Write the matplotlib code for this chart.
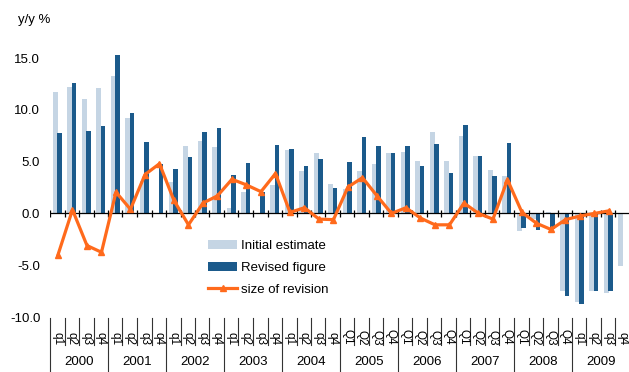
import numpy as np
import matplotlib
matplotlib.use("Agg")
import matplotlib.pyplot as plt
import matplotlib.transforms as mtransforms

plt.rcParams['font.family'] = ['Liberation Sans', 'DejaVu Sans']
plt.rcParams['axes.unicode_minus'] = False

years = ['2000', '2001', '2002', '2003', '2004', '2005', '2006', '2007', '2008', '2009']
quarter_labels = (['q1', 'q2', 'q3', 'q4'] * 5 + ['Q1', 'Q2', 'Q3', 'Q4'] * 4
                  + ['q1', 'q2', 'q3', 'q4'])

initial = [11.75, 12.2, 11.0, 12.1, 13.3, 9.2, 3.1, 0.0, 3.0, 6.55,
           7.0, 6.45, 0.55, 2.1, -0.1, 2.75, 6.1, 4.1, 5.85, 2.85,
           2.4, 4.1, 4.8, 5.85, 5.9, 5.05, 7.85, 5.05, 7.5, 5.5,
           4.15, 3.6, -1.65, -0.55, 0.1, -7.5, -8.6, -7.45, -7.7, -5.1]
revised = [7.8, 12.55, 8.0, 8.4, 15.3, 9.7, 6.9, 4.75, 4.3, 5.4,
           7.9, 8.2, 3.75, 4.9, 2.1, 6.6, 6.2, 4.6, 5.3, 2.45,
           5.0, 7.4, 6.5, 5.85, 6.5, 4.6, 6.7, 3.95, 8.5, 5.5,
           3.6, 6.8, -1.4, -1.6, -1.5, -8.0, -8.7, -7.45, -7.45, np.nan]
revision = [-4.0, 0.35, -3.1, -3.75, 2.05, 0.4, 3.75, 4.8, 1.25, -1.1,
            1.0, 1.7, 3.3, 2.75, 2.1, 3.85, 0.1, 0.55, -0.55, -0.6,
            2.55, 3.45, 1.7, 0.0, 0.55, -0.45, -1.1, -1.1, 1.0, 0.0,
            -0.55, 3.25, 0.1, -0.95, -1.55, -0.6, -0.25, 0.0, 0.25, np.nan]

c_init = '#c5d5e4'
c_rev = '#1b5a8b'
c_line = '#ff6a1c'

fig = plt.figure(figsize=(6.29, 3.72), dpi=100)
ax = fig.add_axes([50 / 629, 1 - 317 / 372, 580 / 629, (317 - 47.7) / 372])

n = len(quarter_labels)
x = np.arange(n)

b1 = ax.bar(x - 0.13, initial, width=0.33, color=c_init, zorder=2, label='Initial estimate')
b2 = ax.bar(x + 0.15, revised, width=0.31, color=c_rev, zorder=3, label='Revised figure')
ax.axhline(0, color='black', lw=0.9, zorder=4)
bounds = np.arange(n + 1) - 0.5
ax.vlines(bounds, -0.33, 0.33, color='black', lw=0.9, zorder=4)
ln, = ax.plot(x + 0.05, revision, color=c_line, lw=2.3, marker='^', ms=5,
              zorder=5, label='size of revision')

ax.set_xlim(-0.5, n - 0.5)
ax.set_ylim(-10, 16)
ax.set_yticks([-10, -5, 0, 5, 10, 15])
ax.set_yticklabels(['%.1f' % v for v in [-10, -5, 0, 5, 10, 15]], fontsize=9.5)
ax.tick_params(axis='y', length=0, pad=7)
ax.set_xticks([])
for s in ax.spines.values():
    s.set_visible(False)

trans = mtransforms.blended_transform_factory(ax.transData, ax.transAxes)
for i, b in enumerate(bounds):
    ybot = -0.23 if i % 4 == 0 else -0.104
    ax.plot([b, b], [-0.004, ybot], transform=trans, color='#333333', lw=0.8,
            clip_on=False)
for i, lab in enumerate(quarter_labels):
    ax.text(i, -0.104, lab, transform=trans, rotation=270, ha='center',
            va='bottom', fontsize=8.5, clip_on=False)
for k, yr in enumerate(years):
    ax.text(4 * k + 1.5, -0.168, yr, transform=trans, ha='center', va='center',
            fontsize=9.5)

fig.text(18 / 629, 1 - 20 / 372, 'y/y %', ha='left', va='center', fontsize=9.5)

ax.legend(handles=[b1, b2, ln], loc='upper left',
          bbox_to_anchor=(208 / 629, 1 - 240 / 372), bbox_transform=fig.transFigure,
          frameon=False, fontsize=9.5, handlelength=2.2, handletextpad=0.3,
          labelspacing=0.72, borderpad=0, borderaxespad=0)

fig.savefig('out.png', dpi=100)
